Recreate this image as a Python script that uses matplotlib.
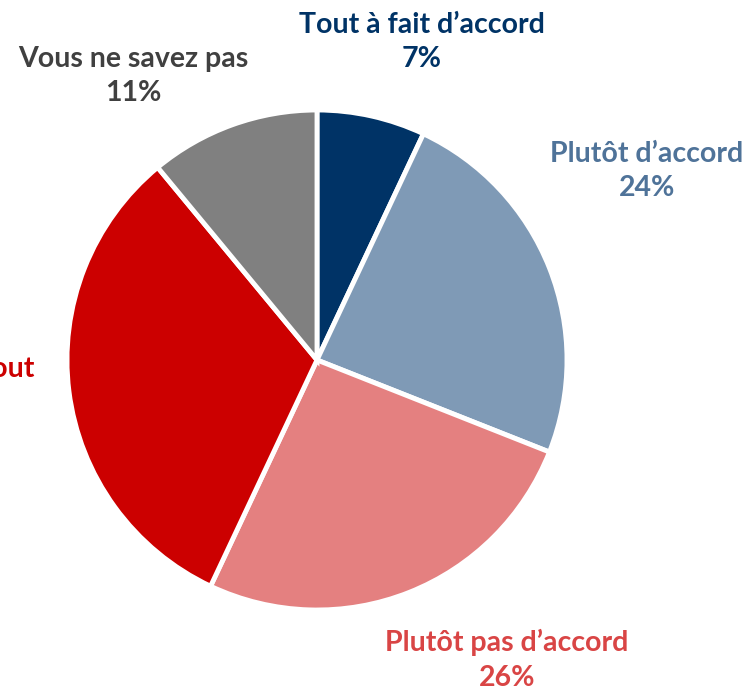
import matplotlib
matplotlib.use("Agg")
import matplotlib.pyplot as plt

# Data
labels = ["Tout à fait d’accord", "Plutôt d’accord", "Plutôt pas d’accord",
          "Pas d’accord du tout", "Vous ne savez pas"]
values = [7, 24, 26, 32, 11]
colors = ["#003366", "#7F9AB6", "#E48080", "#CC0000", "#808080"]
text_colors = ["#003366", "#4F7399", "#D94545", "#CC0000", "#404040"]

plt.rcParams['font.family'] = ['Lato', 'DejaVu Sans']

fig = plt.figure(figsize=(7.51, 6.92), dpi=100)
ax = fig.add_axes([0, 0, 1, 1])

ax.pie(values, colors=colors, startangle=90, counterclock=False,
       center=(317, 332), radius=250, frame=True,
       wedgeprops=dict(edgecolor='white', linewidth=3.5))
ax.set_xlim(0, 751)
ax.set_ylim(0, 692)
ax.axis('off')

# label positions (pixel coords, y from bottom); the left one runs off the canvas
label_pos = [(422, 650), (647, 521), (507, 32), (-95, 306), (133, 616)]
for lab, v, c, (x, y) in zip(labels, values, text_colors, label_pos):
    ax.text(x, y, f"{lab}\n{v}%", color=c, ha='center', va='center',
            fontsize=20.5, fontweight='bold', linespacing=1.4, clip_on=False)

fig.savefig("out.png", dpi=100)
